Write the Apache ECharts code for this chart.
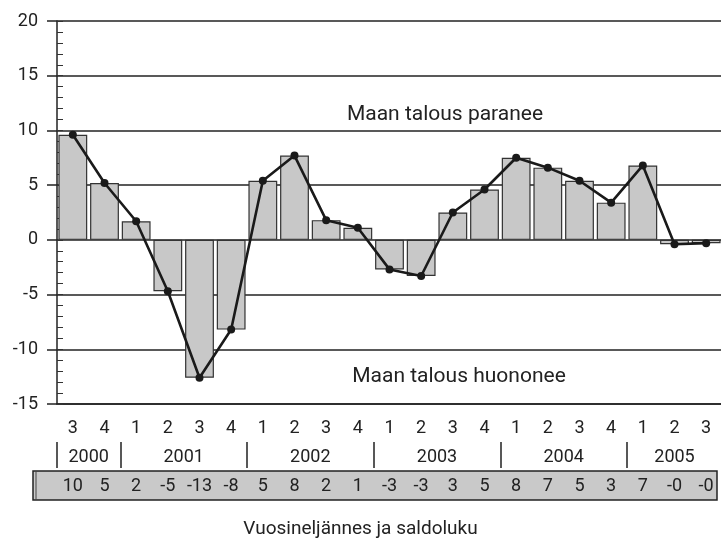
<!DOCTYPE html>
<html>
<head>
<meta charset="utf-8">
<script src="https://cdn.jsdelivr.net/npm/echarts@6/dist/echarts.min.js"></script>
<style>
  html, body { margin: 0; padding: 0; background: #fff; }
  #container { width: 721px; height: 540px; }
</style>
</head>
<body>
<div id="container"></div>
<script>
  // neljännekset 2000Q3 ... 2005Q3
  const quarters = ['3', '4', '1', '2', '3', '4', '1', '2', '3', '4', '1', '2', '3', '4', '1', '2', '3', '4', '1', '2', '3']
  // saldoluku (pylväät ja viiva)
  const values = [9.6, 5.2, 1.7, -4.7, -12.6, -8.2, 5.4, 7.7, 1.8, 1.1, -2.7, -3.3, 2.5, 4.6, 7.5, 6.6, 5.4, 3.4, 6.8, -0.4, -0.3]
  // taulukon pyöristetyt luvut
  const saldoLabels = ['10', '5', '2', '-5', '-13', '-8', '5', '8', '2', '1', '-3', '-3', '3', '5', '8', '7', '5', '3', '7', '-0', '-0']
  // vuodet ja niiden neljännesten määrä
  const years = ['2000', '2001', '2002', '2003', '2004', '2005']
  const yearCounts = [2, 4, 4, 4, 4, 3]
  const yTicks = [-15, -10, -5, 0, 5, 10, 15, 20]

  const font = 'Roboto, "Liberation Sans", sans-serif'

  // vuosien rajat ja keskikohdat kategoria-akselin koordinaateissa
  const yearBounds = []
  const yearCenters = []
  let start = 0
  yearCounts.forEach(n => {
    yearBounds.push(start - 0.5)
    yearCenters.push(start - 0.5 + n / 2)
    start += n
  })

  const myChart = echarts.init(document.getElementById('container'))
  const option = {
    animation: false,
    textStyle: { fontFamily: font },
    title: {
      text: 'Vuosineljännes ja saldoluku',
      left: 'center',
      top: 515,
      textStyle: { fontFamily: font, fontSize: 19, fontWeight: 'normal', color: '#222' }
    },
    grid: { left: 57, right: -1, top: 21, bottom: 136, containLabel: false, outerBoundsMode: 'none' },
    xAxis: [
      {
        type: 'category',
        data: quarters,
        axisLine: { show: true, onZero: false, lineStyle: { color: '#222', width: 1.5 } },
        axisTick: { show: false },
        axisLabel: { margin: 15, fontSize: 18, color: '#222', fontFamily: font, interval: 0 }
      },
      {
        type: 'category',
        data: saldoLabels,
        position: 'bottom',
        offset: 65,
        axisLine: { show: false, onZero: false },
        axisTick: { show: false },
        axisLabel: { margin: 8, fontSize: 18, color: '#222', fontFamily: font, interval: 0 }
      },
      {
        type: 'value',
        min: -0.5,
        max: quarters.length - 0.5,
        position: 'bottom',
        offset: 38,
        axisLine: { show: false, onZero: false },
        splitLine: { show: false },
        axisTick: {
          show: true,
          length: 26,
          customValues: yearBounds,
          lineStyle: { color: '#222', width: 1.5 }
        },
        axisLabel: {
          margin: 6,
          fontSize: 18,
          color: '#222',
          fontFamily: font,
          customValues: yearCenters,
          formatter: v => {
            const i = yearCenters.findIndex(c => Math.abs(c - v) < 1e-6)
            return i >= 0 ? years[i] : ''
          }
        }
      }
    ],
    yAxis: [
      {
        type: 'value',
        min: yTicks[0],
        max: yTicks[yTicks.length - 1],
        interval: 5,
        axisLine: { show: true, onZero: false, lineStyle: { color: '#222', width: 1.5 } },
        axisTick: { show: true, length: 10, lineStyle: { color: '#222', width: 1.5 } },
        axisLabel: { margin: 19, fontSize: 18, color: '#222', fontFamily: font },
        splitLine: { show: true, lineStyle: { color: '#222', width: 1.5 } }
      },
      {
        // pienet jakoviivat akselin sisäpuolella
        type: 'value',
        min: yTicks[0],
        max: yTicks[yTicks.length - 1],
        interval: 5,
        position: 'left',
        offset: 0,
        axisLine: { show: false, onZero: false },
        axisLabel: { show: false },
        splitLine: { show: false },
        axisTick: { show: true, inside: true, length: 6, lineStyle: { color: '#333' } },
        minorTick: { show: true, splitNumber: 5, length: 6, lineStyle: { color: '#333' } }
      }
    ],
    series: [
      {
        type: 'bar',
        data: values,
        barCategoryGap: '9%',
        itemStyle: { color: '#c8c8c8', borderColor: '#333', borderWidth: 1.2 },
        z: 2
      },
      {
        type: 'line',
        data: values,
        symbol: 'circle',
        symbolSize: 8,
        itemStyle: { color: '#1a1a1a' },
        lineStyle: { color: '#1a1a1a', width: 2.6 },
        z: 3
      }
    ],
    graphic: [
      {
        type: 'rect',
        z: -10,
        shape: { x: 33, y: 471, width: 684, height: 29 },
        style: { fill: '#c9c9c9', stroke: '#222', lineWidth: 1.5 }
      },
      {
        type: 'line',
        z: -10,
        shape: { x1: 36, y1: 471, x2: 36, y2: 500 },
        style: { stroke: '#444', lineWidth: 1 }
      },
      {
        type: 'text',
        x: 445,
        y: 115,
        style: { text: 'Maan talous paranee', fontSize: 21, fontFamily: font, fill: '#222', align: 'center', verticalAlign: 'middle' }
      },
      {
        type: 'text',
        x: 459,
        y: 377,
        style: { text: 'Maan talous huononee', fontSize: 21, fontFamily: font, fill: '#222', align: 'center', verticalAlign: 'middle' }
      }
    ]
  }
  option && myChart.setOption(option)
</script>
</body>
</html>
